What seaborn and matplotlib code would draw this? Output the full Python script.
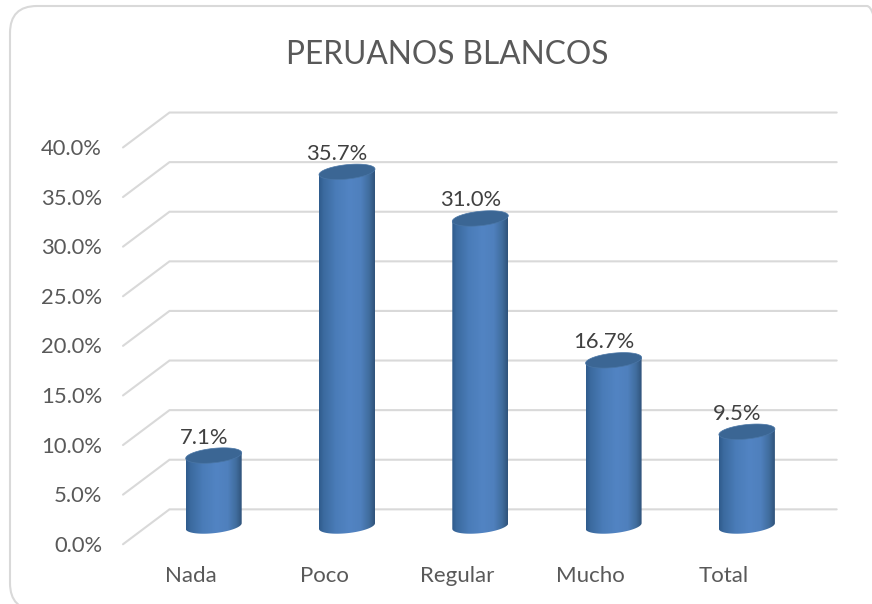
import numpy as np
import pandas as pd
import seaborn as sns
import matplotlib
matplotlib.use('Agg')
import matplotlib.pyplot as plt
from matplotlib.colors import LinearSegmentedColormap
from matplotlib.patches import FancyBboxPatch, Polygon
from matplotlib.path import Path

categories = ['Nada', 'Poco', 'Regular', 'Mucho', 'Total']
values = [7.1, 35.7, 31.0, 16.7, 9.5]
y_ticks = [0, 5, 10, 15, 20, 25, 30, 35, 40]
title = 'PERUANOS BLANCOS'

W, H = 872, 604
# pixel scales of the picture
x0_px, x_step = 213.7, 133.3
y0_px, y_step = 526.0, 9.92

sns.set_theme(style='white')
plt.rcParams['font.family'] = ['Lato', 'DejaVu Sans']

fig = plt.figure(figsize=(W / 100, H / 100), dpi=100, facecolor='white')
ax = fig.add_axes([0, 0, 1, 1])

df = pd.DataFrame({'cat': categories, 'val': values})
sns.barplot(data=df, x='cat', y='val', width=56 / x_step, color='#4f81bd',
            saturation=1, ax=ax, zorder=3, errorbar=None)

xlim = (-x0_px / x_step, (W - x0_px) / x_step)
ylim = ((y0_px - H) / y_step, y0_px / y_step)


def dx(px):
    return px / x_step


def dy(px):
    return px / y_step


# outer chart border, runs off the right and bottom of the picture
border = FancyBboxPatch((10, -6), 884, 604, transform=None, mutation_scale=1,
                        boxstyle='round,pad=0,rounding_size=27', fc='none',
                        ec='#d9d9d9', lw=1.5, zorder=0)
fig.add_artist(border)

# walls of the fake 3d box
back_off, front_off = 1.68, -1.84
x_back, x_front, x_right = dx(169.5 - x0_px), dx(123 - x0_px), dx(836.7 - x0_px)
for t in y_ticks:
    ax.plot([x_front, x_back, x_right], [t + front_off, t + back_off, t + back_off],
            color='#d9d9d9', lw=1.5, zorder=1, solid_joinstyle='miter')
    ax.text(dx(102 - x0_px), t + front_off - dy(1.5), f'{t:.1f}%', ha='right', va='center',
            fontsize=15.8, color='#595959')

# cylinder look
shade = LinearSegmentedColormap.from_list('shade', [
    (0.0, '#2f5b8c'), (0.08, '#3b6a9f'), (0.3, '#4a7cb8'), (0.55, '#5284c3'),
    (0.75, '#4f80bd'), (0.9, '#406d9e'), (1.0, '#30537a')])
grad = np.linspace(0, 1, 128).reshape(1, -1)
a, b, k = dx(28), dy(7.2), dy(2.8)
t_low = np.linspace(np.pi, 2 * np.pi, 60)
t_full = np.linspace(0, 2 * np.pi, 120)

for i, bar in enumerate(ax.patches):
    cx = bar.get_x() + bar.get_width() / 2
    top = bar.get_height()
    bar.set_visible(False)
    # lower edge of the base, then straight up to the top
    xs = cx + a * np.cos(t_low)
    ys = b * np.sin(t_low) + k * np.cos(t_low)
    body = np.vstack([np.column_stack([xs, ys]), [cx + a, top + k], [cx - a, top - k],
                      [xs[0], ys[0]]])
    im = ax.imshow(grad, cmap=shade, extent=(cx - a, cx + a, -2, top + 2), aspect='auto',
                   zorder=3, interpolation='bilinear')
    im.set_clip_path(Path(body), transform=ax.transData)
    # top cap
    cap = np.column_stack([cx + a * np.cos(t_full),
                           top + b * np.sin(t_full) + k * np.cos(t_full)])
    ax.add_patch(Polygon(cap, closed=True, fc='#3b6694', ec='#4a76a6', lw=0.5, zorder=4))
    ax.text(cx + dx(-10), top + dy(18), f'{values[i]:.1f}%', ha='center', va='center',
            fontsize=15.8, color='#404040', zorder=5)
    ax.text(cx + dx(-23), dy(-50), categories[i], ha='center', va='center',
            fontsize=16, color='#595959')

ax.text(dx(447 - x0_px), dy(y0_px - 55), title, ha='center', va='center',
        fontsize=22.8, color='#595959')

ax.set_xlim(*xlim)
ax.set_ylim(*ylim)
ax.axis('off')

fig.savefig('out.png', dpi=100)
